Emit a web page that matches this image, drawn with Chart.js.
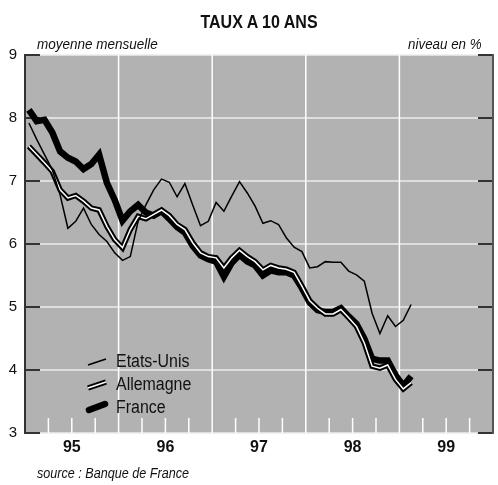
<!DOCTYPE html>
<html><head><meta charset="utf-8">
<script src="https://cdn.jsdelivr.net/npm/chart.js@4/dist/chart.umd.min.js"></script>
<style>
body{margin:0;background:#fff;}
#wrap{position:relative;width:498px;height:485px;font-family:"Liberation Sans Narrow","Liberation Sans",Arial,sans-serif;color:#111;}
canvas{position:absolute;left:0;top:0;}
.t{position:absolute;white-space:nowrap;line-height:1;transform-origin:0 50%;}
</style></head><body>
<div id="wrap">
<canvas id="c" width="498" height="485"></canvas>
<div class="t" style="left:0;width:518px;text-align:center;top:13px;font-weight:bold;font-size:18px;transform:scaleX(0.89);transform-origin:50% 50%;">TAUX A 10 ANS</div>
<div class="t" style="left:37px;top:36px;font-style:italic;font-size:15px;transform:scaleX(0.9);">moyenne mensuelle</div>
<div class="t" style="right:16px;top:36px;font-style:italic;font-size:15px;transform:scaleX(0.89);transform-origin:100% 50%;">niveau en %</div>
<div class="t" style="left:37px;top:466px;font-style:italic;font-size:14px;transform:scaleX(0.9);">source : Banque de France</div>
<div class="t" style="left:116px;top:352px;font-size:18px;transform:scaleX(0.885);">Etats-Unis</div>
<div class="t" style="left:116px;top:375px;font-size:18px;transform:scaleX(0.885);">Allemagne</div>
<div class="t" style="left:116px;top:398px;font-size:18px;transform:scaleX(0.885);">France</div>
</div>
<script>
// Monthly averages, Jan 1995 .. Feb 1999 (month index 0 = Jan 95)
const yearLabels = ['95','96','97','98','99'];
const yTicks = [3,4,5,6,7,8,9];
const etatsUnis = [
 7.92,7.66,7.42,7.18,6.78,6.25,6.36,6.57,6.31,6.15,6.04,5.86,
 5.74,5.80,6.36,6.62,6.86,7.03,6.98,6.75,6.96,6.62,6.29,6.36,
 6.66,6.52,6.76,6.99,6.81,6.60,6.33,6.37,6.31,6.10,5.95,5.88,
 5.62,5.64,5.72,5.71,5.71,5.57,5.51,5.41,4.90,4.58,4.86,4.69,
 4.79,5.04];
const allemagne = [
 7.55,7.42,7.29,7.15,6.86,6.73,6.77,6.68,6.57,6.54,6.28,6.07,
 5.94,6.23,6.44,6.40,6.47,6.54,6.45,6.31,6.23,6.02,5.86,5.80,
 5.78,5.62,5.78,5.90,5.80,5.72,5.59,5.66,5.62,5.60,5.55,5.33,
 5.10,4.98,4.89,4.89,4.96,4.83,4.69,4.43,4.06,4.03,4.08,3.85,
 3.70,3.80];
const france = [
 8.13,7.95,7.97,7.77,7.47,7.37,7.31,7.19,7.27,7.42,6.97,6.70,
 6.37,6.52,6.62,6.50,6.45,6.52,6.40,6.27,6.18,5.97,5.82,5.76,
 5.72,5.48,5.70,5.83,5.72,5.66,5.50,5.58,5.55,5.55,5.50,5.30,
 5.07,4.95,4.92,4.92,4.98,4.85,4.73,4.50,4.18,4.15,4.15,3.92,
 3.75,3.90];

const pts = arr => arr.map((v,i)=>({x:i,y:v}));

function seg(ctx,x1,y1,x2,y2){ctx.beginPath();ctx.moveTo(x1,y1);ctx.lineTo(x2,y2);ctx.stroke();}

const deco = {
 id:'deco',
 beforeDatasetsDraw(chart){
  const {ctx, chartArea:a, scales:{x,y}} = chart;
  ctx.save();
  ctx.fillStyle='#b2b2b2';
  ctx.fillRect(a.left,a.top,a.right-a.left,a.bottom-a.top);
  ctx.lineCap='butt';
  ctx.strokeStyle='#ededed'; ctx.lineWidth=1.5;
  yTicks.forEach(v=>{const py=y.getPixelForValue(v); seg(ctx,a.left+15,py,a.right-15,py);});
  ctx.strokeStyle='#ffffff'; ctx.lineWidth=1.5;
  for(let k=1;k<yearLabels.length;k++){const px=x.getPixelForValue(k*12-0.5); seg(ctx,px,a.top,px,a.bottom);}
  for(let m=3;m<60;m+=3){ if(m%12===0) continue; const px=x.getPixelForValue(m-0.5); seg(ctx,px,a.bottom,px,a.bottom-15);}
  ctx.strokeStyle='#333'; ctx.lineWidth=2;
  yTicks.forEach(v=>{const py=y.getPixelForValue(v); seg(ctx,a.left,py,a.left+15,py); seg(ctx,a.right-15,py,a.right,py);});
  seg(ctx,a.left,a.top-1,a.left,a.bottom+1);
  ctx.strokeStyle='#555';
  seg(ctx,a.right,a.top-1,a.right,a.bottom+1);
  ctx.restore();
 },
 afterDatasetsDraw(chart){
  const {ctx} = chart;
  ctx.save();
  ctx.lineCap='butt';
  ctx.strokeStyle='#000'; ctx.lineWidth=1.5; seg(ctx,88,365,106,359);
  ctx.lineWidth=5.5; seg(ctx,88,388,106,382);
  ctx.strokeStyle='#fff'; ctx.lineWidth=1.5; seg(ctx,88,388,106,382);
  ctx.strokeStyle='#000'; ctx.lineWidth=6.5; ctx.lineCap='round'; seg(ctx,89,410,105,404);
  ctx.restore();
 }
};

new Chart(document.getElementById('c'), {
 type:'line',
 data:{datasets:[
  {label:'Etats-Unis', data:pts(etatsUnis), borderColor:'#000', borderWidth:1.5},
  {label:'Allemagne', data:pts(allemagne), borderColor:'#fff', borderWidth:1.5},
  {label:'Allemagne contour', data:pts(allemagne), borderColor:'#000', borderWidth:5.5},
  {label:'France', data:pts(france), borderColor:'#000', borderWidth:6.5}
 ]},
 options:{
  responsive:false, animation:false,
  layout:{padding:{top:55,right:5,bottom:22,left:0}},
  elements:{point:{radius:0}, line:{tension:0, borderJoinStyle:'miter'}},
  plugins:{legend:{display:false}, tooltip:{enabled:false}},
  scales:{
   x:{type:'linear', min:-0.5, max:59.5,
      grid:{display:false, drawTicks:false}, border:{display:false},
      afterBuildTicks:s=>{s.ticks=yearLabels.map((_,i)=>({value:i*12+5.5}));},
      afterFit:s=>{s.height=30;},
      ticks:{autoSkip:false, maxRotation:0, padding:5, color:'#111',
        font:{family:'"Liberation Sans Narrow","Liberation Sans",Arial', size:16, weight:'bold'},
        callback:v=>yearLabels[Math.round((v-5.5)/12)]}},
   y:{min:3, max:9,
      grid:{display:false, drawTicks:false}, border:{display:false},
      afterBuildTicks:s=>{s.ticks=yTicks.map(v=>({value:v}));},
      afterFit:s=>{s.width=25;},
      ticks:{padding:8, color:'#111',
        font:{family:'"Liberation Sans Narrow","Liberation Sans",Arial', size:15}}}
  }
 },
 plugins:[deco]
});
</script>
</body></html>
